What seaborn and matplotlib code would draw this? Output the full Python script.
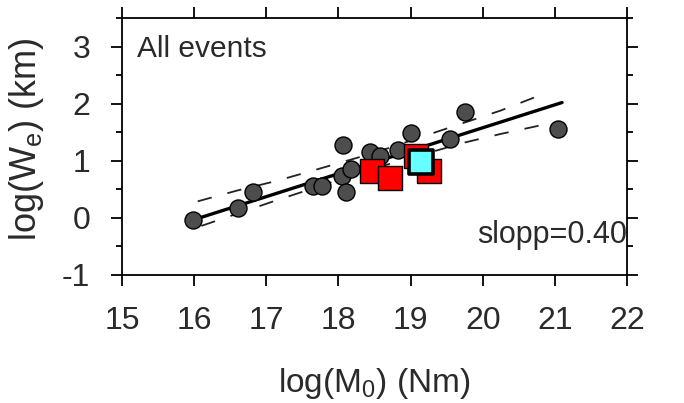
import numpy as np
import pandas as pd
import matplotlib
matplotlib.use("Agg")
import matplotlib.pyplot as plt
from matplotlib import font_manager
from matplotlib.ticker import MultipleLocator
import seaborn as sns

# ---- data ----
circ_x = [15.98, 16.61, 16.82, 17.65, 17.77, 18.07, 18.05, 18.10, 18.17, 18.44, 18.58, 18.82, 19.01, 19.54, 19.75, 21.04]
circ_y = [-0.04, 0.17, 0.45, 0.55, 0.55, 1.27, 0.73, 0.46, 0.85, 1.15, 1.09, 1.18, 1.48, 1.39, 1.85, 1.55]
red_x = [18.46, 18.71, 19.08, 19.25]
red_y = [0.82, 0.69, 1.09, 0.82]
cyan_x = [19.15]
cyan_y = [0.98]
fit_x = [15.95, 21.10]
fit_y = [-0.05, 2.02]
upper_x = [16.05, 16.6, 17.15, 17.65, 18.5, 19.3, 20.25, 20.8]
upper_y = [0.29, 0.48, 0.65, 0.83, 1.14, 1.48, 1.88, 2.15]
lower_x = [16.1, 17.1, 18.5, 19.75, 20.25, 20.8]
lower_y = [-0.14, 0.29, 0.87, 1.32, 1.47, 1.62]
x_ticks = [15, 16, 17, 18, 19, 20, 21, 22]
y_ticks = [-1, 0, 1, 2, 3]
label_text = "All events"
slope_text = "slopp=0.40"

sns.set_theme(style="ticks")
plt.rcParams["font.family"] = ["Liberation Sans", "DejaVu Sans"]
plt.rcParams["mathtext.default"] = "regular"
plt.rcParams["axes.unicode_minus"] = False

txt_color = "#2a2a2a"

fig = plt.figure(figsize=(6.84, 4.03), dpi=100)
ax = fig.add_axes([122 / 684, 1 - 275 / 403, 505 / 684, 257 / 403])

sns.lineplot(x=fit_x, y=fit_y, ax=ax, color="black", lw=2.4, zorder=2)
sns.lineplot(x=upper_x, y=upper_y, ax=ax, color="#222222", lw=1.3,
             linestyle=(0, (8, 9)), zorder=2)
sns.lineplot(x=lower_x, y=lower_y, ax=ax, color="#222222", lw=1.3,
             linestyle=(0, (8, 9)), zorder=2)

sns.scatterplot(x=circ_x, y=circ_y, ax=ax, s=150, color="#4d4d4d",
                edgecolor="black", linewidth=1.0, zorder=3)
sns.scatterplot(x=red_x, y=red_y, ax=ax, marker="s", s=300, color="#ff0000",
                edgecolor="black", linewidth=1.0, zorder=4)
sns.scatterplot(x=cyan_x, y=cyan_y, ax=ax, marker="s", s=300, color="#66ffff",
                edgecolor="black", linewidth=2.6, zorder=5)

ax.set_xlim(15, 22)
ax.set_ylim(-1, 3.5)
ax.set_xticks(x_ticks)
ax.set_yticks(y_ticks)
ax.yaxis.set_minor_locator(MultipleLocator(0.5))
ax.tick_params(which="both", direction="out", top=True, right=True,
               width=1.3, color="black", labelcolor=txt_color)
ax.tick_params(which="major", length=8)
ax.tick_params(which="minor", length=4)
ax.tick_params(axis="x", which="major", pad=14)
ax.tick_params(axis="y", which="major", pad=15)
for lab in ax.get_xticklabels() + ax.get_yticklabels():
    lab.set_fontsize(23)
for sp in ax.spines.values():
    sp.set_linewidth(1.3)
    sp.set_color("black")
    sp.set_visible(True)

ax.set_xlabel(r"log(M$_0$) (Nm)", fontsize=24, color=txt_color)
ax.xaxis.set_label_coords(0.5, -0.355)
ax.set_ylabel(r"log(W$_e$) (km)", fontsize=26, color=txt_color)
ax.yaxis.set_label_coords(-0.15, 0.53)

ax.text(0.03, 0.848, label_text, transform=ax.transAxes, fontsize=21.5,
        ha="left", va="baseline", color=txt_color)
ax.text(0.703, 0.125, slope_text, transform=ax.transAxes, fontsize=22,
        ha="left", va="baseline", color=txt_color)

fig.savefig("out.png", dpi=100)
